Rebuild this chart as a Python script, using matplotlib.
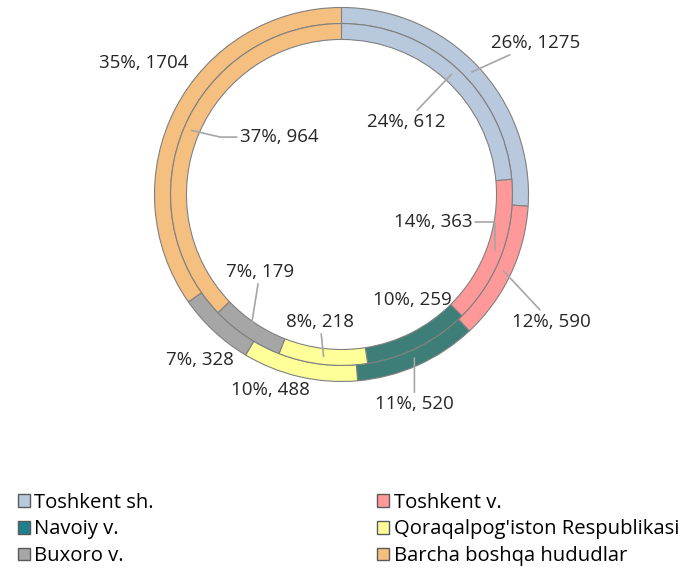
import matplotlib.pyplot as plt
import numpy as np
from matplotlib.patches import Patch

regions = ["Toshkent sh.", "Toshkent v.", "Navoiy v.",
           "Qoraqalpog'iston Respublikasi", "Buxoro v.", "Barcha boshqa hududlar"]
outer_vals = [1275, 590, 520, 488, 328, 1704]
inner_vals = [612, 363, 259, 218, 179, 964]

colors = ["#B9C9DD", "#FF9999", "#3D7F78", "#FFFF99", "#A6A6A6", "#F5BF80"]
legend_colors = ["#B9C9DD", "#FF9999", "#22808C", "#FFFF99", "#A6A6A6", "#F5BF80"]

# where the labels sit (data coords, ring radius = 1)
outer_label_pos = [(1.04, 0.81), (1.12, -0.68), (0.39, -1.12),
                   (-0.38, -1.045), (-0.757, -0.885), (-1.056, 0.703)]
inner_label_pos = [(0.345, 0.388), (0.489, -0.147), (0.377, -0.564),
                   (-0.115, -0.682), (-0.436, -0.414), (-0.334, 0.307)]
outer_lines = [True, True, True, False, False, False]
inner_lines = [True, True, False, True, True, True]
# bent leader lines (Excel style) for a couple of inner labels
inner_conn = [None, "angle,angleA=0,angleB=90", None, None, None, "angle,angleA=0,angleB=-13"]
outer_conn = [None] * 6

plt.rcParams['font.family'] = ['Open Sans', 'DejaVu Sans']

fig = plt.figure(figsize=(6.86, 5.71), dpi=100)
ax = fig.add_axes([0.2252, 0.3319, 0.5452, 0.655])

r_out, r_mid, r_in = 1.0, 0.914, 0.829
edge = dict(edgecolor="#808080", linewidth=0.8)

ax.pie(outer_vals, radius=r_out, colors=colors, startangle=90, counterclock=False,
       wedgeprops=dict(width=r_out - r_mid, **edge))
ax.pie(inner_vals, radius=r_mid, colors=colors, startangle=90, counterclock=False,
       wedgeprops=dict(width=r_mid - r_in, **edge))


def add_labels(vals, r0, r1, positions, lines, conns):
    total = sum(vals)
    cum = np.cumsum([0] + list(vals))
    for i, v in enumerate(vals):
        mid = (cum[i] + cum[i + 1]) / 2 / total
        ang = np.deg2rad(90 - mid * 360)
        rr = (r0 + r1) / 2
        anchor = (rr * np.cos(ang), rr * np.sin(ang))
        txt = f"{round(v / total * 100)}%, {v}"
        if lines[i]:
            ap = dict(arrowstyle="-", color="#A6A6A6", lw=1.2, shrinkA=0, shrinkB=0)
            if conns[i]:
                ap["connectionstyle"] = conns[i]
            ax.annotate(txt, xy=anchor, xytext=positions[i], ha="center", va="center",
                        fontsize=13.5, color="#262626", arrowprops=ap)
        else:
            ax.text(positions[i][0], positions[i][1], txt, ha="center", va="center",
                    fontsize=13.5, color="#262626")


add_labels(outer_vals, r_mid, r_out, outer_label_pos, outer_lines, outer_conn)
add_labels(inner_vals, r_in, r_mid, inner_label_pos, inner_lines, inner_conn)

ax.set_xlim(-1, 1)
ax.set_ylim(-1, 1)
ax.axis("off")

handles = [Patch(facecolor=c, edgecolor="#595959", linewidth=1.0) for c in legend_colors]
leg_kw = dict(loc="upper left", frameon=False, fontsize=14.6, handlelength=0.6,
              handleheight=0.6, handletextpad=0.2, labelspacing=0.33,
              borderaxespad=0, borderpad=0)
fig.legend([handles[i] for i in (0, 2, 4)], [regions[i] for i in (0, 2, 4)],
           bbox_to_anchor=(0.026, 0.137), **leg_kw)
fig.legend([handles[i] for i in (1, 3, 5)], [regions[i] for i in (1, 3, 5)],
           bbox_to_anchor=(0.55, 0.137), **leg_kw)

fig.savefig("out.png", dpi=100)
